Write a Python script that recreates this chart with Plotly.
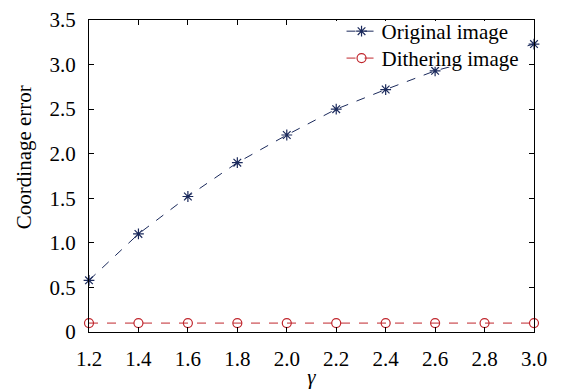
import plotly.graph_objects as go

gamma = [1.2, 1.4, 1.6, 1.8, 2.0, 2.2, 2.4, 2.6, 2.8, 3.0]
original_error = [0.58, 1.10, 1.52, 1.90, 2.21, 2.50, 2.72, 2.93, 3.08, 3.23]
dithering_error = [0.10, 0.10, 0.10, 0.10, 0.10, 0.10, 0.10, 0.10, 0.10, 0.10]
x_ticks = [1.2, 1.4, 1.6, 1.8, 2.0, 2.2, 2.4, 2.6, 2.8, 3.0]
x_tick_labels = ["1.2", "1.4", "1.6", "1.8", "2.0", "2.2", "2.4", "2.6", "2.8", "3.0"]
y_ticks = [0, 0.5, 1.0, 1.5, 2.0, 2.5, 3.0, 3.5]
y_tick_labels = ["0", "0.5", "1.0", "1.5", "2.0", "2.5", "3.0", "3.5"]

navy = "#1b2a5c"
red = "#c0262d"
font_family = "Liberation Serif"

fig = go.Figure()
fig.add_trace(go.Scatter(
    x=gamma, y=original_error, name="Original image", mode="lines+markers",
    line=dict(color=navy, width=1, dash="dash"),
    marker=dict(symbol="asterisk-open", size=9, color=navy, line=dict(color=navy, width=1.2)),
    cliponaxis=False, legend="legend",
))
fig.add_trace(go.Scatter(
    x=gamma, y=dithering_error, name="Dithering image", mode="lines+markers",
    line=dict(color=red, width=1, dash="dash"),
    marker=dict(symbol="circle-open", size=9, color=red, line=dict(color=red, width=1.2)),
    cliponaxis=False, legend="legend2",
))

axis_common = dict(
    showline=True, linecolor="black", linewidth=1, mirror="ticks",
    ticks="inside", ticklen=5, tickcolor="black", tickwidth=1,
    showgrid=False, zeroline=False, automargin=False,
    tickfont=dict(family=font_family, size=21, color="black"),
)

legend_common = dict(
    xanchor="left", yanchor="middle",
    bgcolor="rgba(255,255,255,0)", borderwidth=0,
    font=dict(family=font_family, size=21, color="black"),
)

fig.update_layout(
    width=563, height=389,
    margin=dict(l=89, r=29, t=19, b=57),
    paper_bgcolor="white", plot_bgcolor="white",
    font=dict(family=font_family, size=21, color="black"),
    showlegend=True,
    legend=dict(x=0.5675, y=0.96, **legend_common),
    legend2=dict(x=0.5675, y=0.874, **legend_common),
    xaxis=dict(
        range=[1.2, 3.0], tickvals=x_ticks, ticktext=x_tick_labels,
        ticklabelstandoff=8,
        title=dict(text="<i>γ</i>", font=dict(family=font_family, size=21), standoff=8),
        **axis_common,
    ),
    yaxis=dict(
        range=[0, 3.5], tickvals=y_ticks, ticktext=y_tick_labels,
        ticklabelstandoff=8,
        **axis_common,
    ),
    shapes=[dict(
        type="rect", xref="paper", yref="paper",
        x0=0.5416, x1=0.973, y0=0.85, y1=0.997,
        fillcolor="white", line=dict(width=0), layer="above",
    )],
    annotations=[dict(
        text="Coordinage error", textangle=-90, showarrow=False,
        xref="paper", yref="paper", x=-0.147, y=0.559,
        xanchor="center", yanchor="middle",
        font=dict(family=font_family, size=21, color="black"),
    )],
)

fig.write_html("out.html", config={"displayModeBar": False},
               post_script="document.body.style.margin='0';")
